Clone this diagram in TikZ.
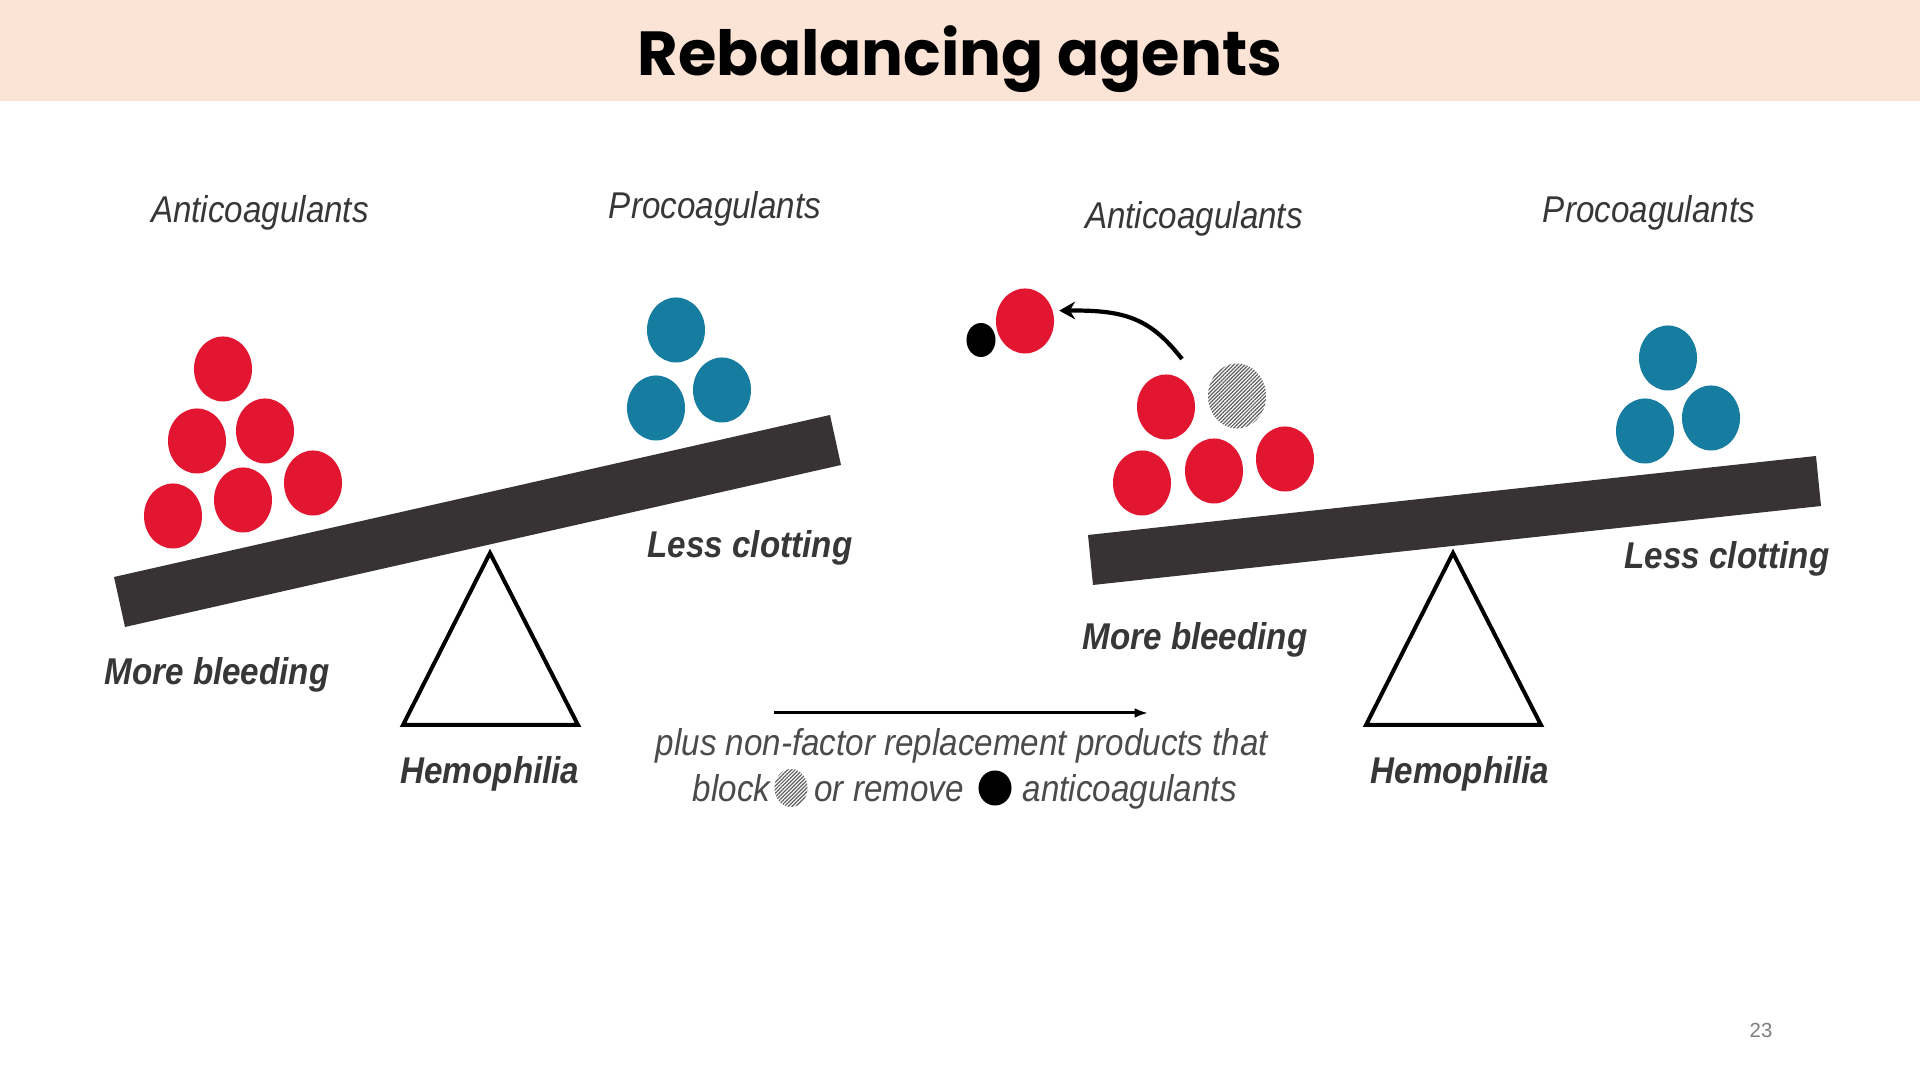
\documentclass[tikz,border=0pt]{standalone}
\usepackage{fontspec}
\usetikzlibrary{shapes.geometric,arrows.meta,patterns.meta,positioning}
\newfontfamily\diagfont[FakeStretch=0.89]{Liberation Sans}
\newfontfamily\titlefont{Poppins}
\newfontfamily\pagefont{Liberation Sans}
\definecolor{bandpeach}{RGB}{251,227,214}
\definecolor{ballred}{RGB}{227,22,50}
\definecolor{ballblue}{RGB}{22,125,160}
\definecolor{beamgray}{RGB}{55,51,52}
\definecolor{labelgray}{RGB}{55,55,55}
\definecolor{midgray}{RGB}{75,75,75}
\definecolor{hatchgray}{RGB}{95,95,95}
\definecolor{pagegray}{RGB}{127,127,127}
\begin{document}
\begin{tikzpicture}[x=0.01cm, y=-0.01cm,
  every node/.style={inner sep=0pt},
  ball/.style={ellipse, minimum width=0.58cm, minimum height=0.65cm},
  redball/.style={ball, fill=ballred},
  blueball/.style={ball, fill=ballblue},
  hatchfill/.style={pattern={Lines[angle=45,distance=0.75pt,line width=0.35pt]}, pattern color=hatchgray},
  hatchball/.style={ball, hatchfill},
  beam/.style={fill=beamgray},
  fulcrum/.style={draw=black, line width=0.04cm, fill=white},
  sidelabel/.style={font=\diagfont\fontsize{10.6}{12}\selectfont\itshape, text=labelgray},
  effectlabel/.style={font=\diagfont\fontsize{10.6}{12}\selectfont\bfseries\itshape, text=labelgray},
  midtext/.style={font=\diagfont\fontsize{10.6}{12}\selectfont\itshape, text=midgray},
  pullarrow/.style={line width=0.042cm, -{Stealth[length=4.5pt,width=5pt]}},
  shiftarrow/.style={line width=0.03cm, -{Latex[length=3.8pt,width=2.8pt]}}]
  \useasboundingbox (0,0) rectangle (1920,1080);
  \fill[white] (0,0) rectangle (1920,1080);
  % Title band
  \fill[bandpeach] (0,0) rectangle (1920,101);
  \node[font=\titlefont\bfseries\fontsize{17.7}{21}\selectfont, anchor=base] (title) at (960,76) {Rebalancing agents};

  % Left scale: hemophilia
  \fill[beam] (114,577) -- (830,415) -- (841,465) -- (125,627) -- cycle;
  \draw[fulcrum] (490,553) -- (578,725) -- (403,725) -- cycle;
  \node[redball] (la1) at (223,369) {};
  \node[redball] (la2) at (197,441) {};
  \node[redball] (la3) at (265,431) {};
  \node[redball] (la4) at (173,516) {};
  \node[redball] (la5) at (243,500) {};
  \node[redball] (la6) at (313,483) {};
  \node[blueball] (lp1) at (676,330) {};
  \node[blueball] (lp2) at (656,408) {};
  \node[blueball] (lp3) at (722,390) {};
  \node[sidelabel] (lanti) at (260,213) {Anticoagulants};
  \node[sidelabel] (lpro) at (715,209) {Procoagulants};
  \node[effectlabel] (lbleed) at (217,675) {More bleeding};
  \node[effectlabel] (lclot) at (750,548) {Less clotting};
  \node[effectlabel] (lhemo) at (490,774) {Hemophilia};

  % Right scale: rebalanced
  \fill[beam] (1088,535) -- (1816,456) -- (1821,506) -- (1093,585) -- cycle;
  \draw[fulcrum] (1453,553) -- (1541,725) -- (1366,725) -- cycle;
  \node[redball] (ra1) at (1166,407) {};
  \node[hatchball] (rblock) at (1237,396) {};
  \node[redball] (ra2) at (1142,483) {};
  \node[redball] (ra3) at (1214,471) {};
  \node[redball] (ra4) at (1285,459) {};
  \node[redball] (rfly) at (1025,321) {};
  \node[ellipse, fill=black, minimum width=0.29cm, minimum height=0.34cm] (rremove) at (981,340) {};
  \node[blueball] (rp1) at (1668,358) {};
  \node[blueball] (rp2) at (1645,431) {};
  \node[blueball] (rp3) at (1711,418) {};
  \coordinate (pullstart) at (1182,359);
  \draw[pullarrow, shorten >=1.7pt] (pullstart) .. controls (1150,318) and (1125,310) .. (rfly.20);
  \node[sidelabel] (ranti) at (1194,219) {Anticoagulants};
  \node[sidelabel] (rpro) at (1649,213) {Procoagulants};
  \node[effectlabel] (rbleed) at (1195,640) {More bleeding};
  \node[effectlabel] (rclot) at (1727,559) {Less clotting};
  \node[effectlabel] (rhemo) at (1460,774) {Hemophilia};

  % Transition arrow and caption
  \coordinate (shiftfrom) at (774,713);
  \coordinate (shiftto) at (1148,713);
  \draw[shiftarrow] (shiftfrom) -- (shiftto);
  \node[midtext] (plusline) at (962,746) {plus non-factor replacement products that};
  \node[ellipse, minimum width=0.33cm, minimum height=0.38cm, hatchfill] (blockdot) at (791,788) {};
  \node[ellipse, fill=black, minimum width=0.33cm, minimum height=0.35cm] (removedot) at (995,788) {};
  \node[midtext, anchor=base east] (blockword) at (771,802) {block};
  \node[midtext, anchor=base] (removeword) at (889,802) {or remove};
  \node[midtext, anchor=base west] (antiword) at (1022,802) {anticoagulants};

  % Page number
  \node[font=\pagefont\fontsize{5.8}{7}\selectfont, text=pagegray] (pagenum) at (1761,1030) {23};
\end{tikzpicture}
\end{document}
